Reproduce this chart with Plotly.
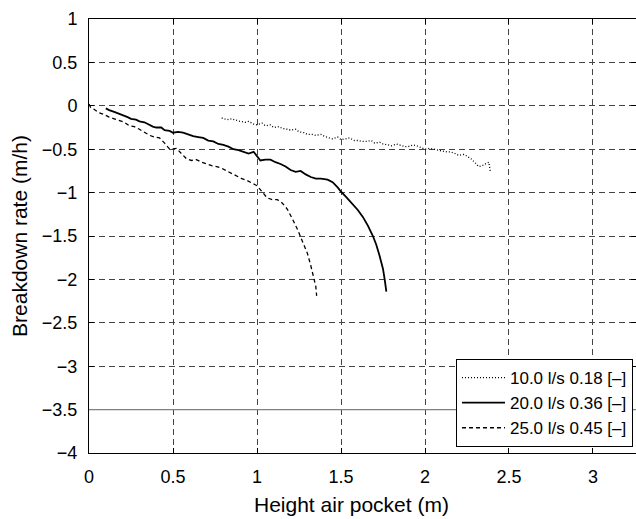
import plotly.graph_objects as go

# 10.0 l/s 0.18 [-]  (dotted)
x10 = [0.79, 0.82, 0.85, 0.88, 0.90, 0.93, 0.95, 0.98, 1.00, 1.03, 1.05, 1.08, 1.10, 1.13, 1.15,
       1.18, 1.20, 1.23, 1.25, 1.28, 1.30, 1.33, 1.35, 1.38, 1.40, 1.43, 1.45, 1.48, 1.50, 1.53,
       1.55, 1.58, 1.60, 1.63, 1.65, 1.68, 1.70, 1.73, 1.75, 1.78, 1.80, 1.83, 1.85, 1.88, 1.90,
       1.93, 1.95, 1.98, 2.00, 2.03, 2.05, 2.08, 2.10, 2.13, 2.15, 2.18, 2.20, 2.23, 2.25, 2.28,
       2.30, 2.32, 2.34, 2.36, 2.38, 2.39]
y10 = [-0.14, -0.16, -0.15, -0.17, -0.18, -0.19, -0.18, -0.21, -0.22, -0.20, -0.23, -0.22, -0.25, -0.24, -0.26,
       -0.27, -0.28, -0.27, -0.30, -0.31, -0.33, -0.33, -0.34, -0.33, -0.35, -0.37, -0.38, -0.36, -0.39, -0.38,
       -0.37, -0.40, -0.40, -0.41, -0.41, -0.40, -0.43, -0.42, -0.44, -0.45, -0.46, -0.44, -0.45, -0.47, -0.47,
       -0.45, -0.46, -0.48, -0.50, -0.49, -0.50, -0.51, -0.52, -0.53, -0.53, -0.55, -0.57, -0.56, -0.58, -0.62,
       -0.66, -0.70, -0.69, -0.67, -0.65, -0.77]

# 20.0 l/s 0.36 [-]  (solid)
x20 = [0.10, 0.12, 0.15, 0.18, 0.20, 0.23, 0.25, 0.28, 0.30, 0.33, 0.35, 0.38, 0.40, 0.43, 0.45,
       0.48, 0.50, 0.53, 0.56, 0.59, 0.62, 0.65, 0.68, 0.71, 0.74, 0.77, 0.80, 0.83, 0.86, 0.89,
       0.92, 0.95, 0.98, 1.00, 1.02, 1.05, 1.08, 1.11, 1.14, 1.17, 1.20, 1.23, 1.26, 1.29, 1.32,
       1.35, 1.38, 1.42, 1.45, 1.48, 1.50, 1.53, 1.56, 1.60, 1.63, 1.66, 1.69, 1.71, 1.73, 1.75,
       1.76, 1.77]
y20 = [-0.03, -0.05, -0.07, -0.09, -0.11, -0.13, -0.15, -0.16, -0.18, -0.19, -0.21, -0.24, -0.25, -0.25, -0.28,
       -0.29, -0.31, -0.30, -0.31, -0.33, -0.35, -0.36, -0.37, -0.40, -0.41, -0.44, -0.45, -0.47, -0.50, -0.51,
       -0.53, -0.55, -0.53, -0.58, -0.63, -0.62, -0.62, -0.65, -0.67, -0.70, -0.74, -0.76, -0.75, -0.79, -0.82,
       -0.84, -0.84, -0.85, -0.88, -0.94, -0.99, -1.05, -1.11, -1.20, -1.28, -1.38, -1.50, -1.60, -1.73, -1.88,
       -2.00, -2.14]

# 25.0 l/s 0.45 [-]  (dashed)
x25 = [0.00, 0.01, 0.03, 0.06, 0.09, 0.12, 0.15, 0.18, 0.21, 0.24, 0.27, 0.30, 0.33, 0.36, 0.39,
       0.42, 0.45, 0.48, 0.52, 0.55, 0.58, 0.61, 0.64, 0.67, 0.70, 0.73, 0.76, 0.79, 0.82, 0.85,
       0.88, 0.91, 0.94, 0.97, 1.00, 1.03, 1.06, 1.09, 1.12, 1.15, 1.18, 1.21, 1.24, 1.27, 1.30,
       1.32, 1.34, 1.35, 1.355]
y25 = [0.02, -0.02, -0.04, -0.08, -0.10, -0.13, -0.15, -0.17, -0.19, -0.23, -0.24, -0.27, -0.31, -0.34, -0.36,
       -0.37, -0.43, -0.50, -0.49, -0.55, -0.61, -0.63, -0.62, -0.65, -0.67, -0.69, -0.70, -0.72, -0.75, -0.78,
       -0.81, -0.84, -0.86, -0.89, -0.92, -0.99, -1.06, -1.08, -1.08, -1.12, -1.19, -1.30, -1.42, -1.56, -1.70,
       -1.84, -1.98, -2.08, -2.19]

names = ["10.0 l/s 0.18 [–]", "20.0 l/s 0.36 [–]", "25.0 l/s 0.45 [–]"]

x_ticks = [0, 0.5, 1, 1.5, 2, 2.5, 3]
y_ticks = [-4, -3.5, -3, -2.5, -2, -1.5, -1, -0.5, 0, 0.5, 1]

FONT = "Liberation Sans, Arial, sans-serif"

fig = go.Figure()
fig.add_trace(go.Scatter(x=x10, y=y10, mode="lines", name=names[0],
                         line=dict(color="black", width=1.3, dash="1px,2px")))
fig.add_trace(go.Scatter(x=x20, y=y20, mode="lines", name=names[1],
                         line=dict(color="black", width=1.8, dash="solid")))
fig.add_trace(go.Scatter(x=x25, y=y25, mode="lines", name=names[2],
                         line=dict(color="black", width=1.3, dash="4px,3px")))

fig.add_shape(type="line", xref="paper", yref="y", x0=0, x1=1, y0=-3.5, y1=-3.5,
              line=dict(color="#808080", width=1.2), layer="above")

axis_common = dict(showline=True, linecolor="black", linewidth=1, mirror="ticks",
                   ticks="inside", ticklen=5, tickcolor="black",
                   showgrid=True, gridcolor="#444444", gridwidth=1, griddash="6px,4px",
                   zeroline=False, tickfont=dict(family=FONT, size=18, color="black"))

fig.update_xaxes(range=[0, 3.256], tickvals=x_ticks, ticklabelstandoff=7, **axis_common)
fig.update_yaxes(range=[-4, 1], tickvals=y_ticks, ticklabelstandoff=7,
                 title=dict(text="Breakdown rate (m/h)", font=dict(family=FONT, size=21, color="black"), standoff=8),
                 **axis_common)

fig.add_annotation(text="Height air pocket (m)", xref="paper", yref="paper",
                   x=(351.7 - 89) / 547, y=-(504 - 453) / 434, xanchor="center", yanchor="middle",
                   showarrow=False, font=dict(family=FONT, size=21, color="black"))

fig.update_layout(
    width=636, height=519,
    margin=dict(l=89, r=0, t=19, b=66),
    plot_bgcolor="white", paper_bgcolor="white",
    font=dict(family=FONT, size=18, color="black"),
    legend=dict(x=0.9945, y=0.0138, xanchor="right", yanchor="bottom",
                bgcolor="white", bordercolor="black", borderwidth=1,
                font=dict(family=FONT, size=17, color="black"),
                tracegroupgap=0, itemwidth=43),
    showlegend=True,
)

fig.write_html("out.html")
